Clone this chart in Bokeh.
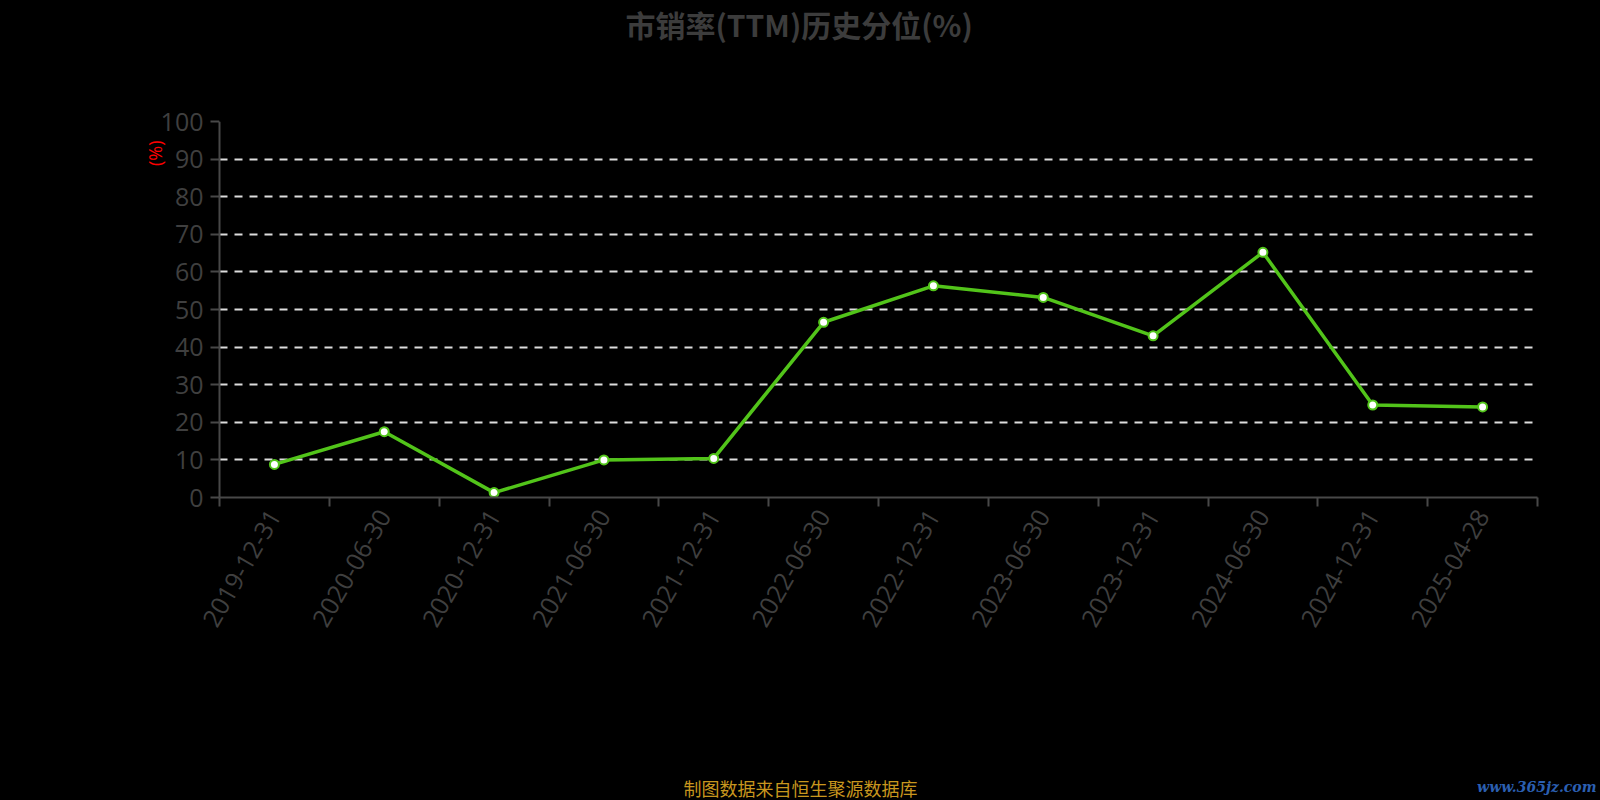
import math
from bokeh.plotting import figure
from bokeh.models import Range1d, FixedTicker, Title, ColorBar, LinearColorMapper
from bokeh.embed import file_html
from bokeh.resources import INLINE

dates = ["2019-12-31", "2020-06-30", "2020-12-31", "2021-06-30", "2021-12-31", "2022-06-30",
         "2022-12-31", "2023-06-30", "2023-12-31", "2024-06-30", "2024-12-31", "2025-04-28"]
values = [8.8, 17.5, 1.3, 10.0, 10.4, 46.6, 56.3, 53.2, 43.0, 65.2, 24.6, 24.1]
y_ticks = [0, 10, 20, 30, 40, 50, 60, 70, 80, 90, 100]

title_text = "市销率(TTM)历史分位(%)"
footer_text = "制图数据来自恒生聚源数据库"
unit_text = "(%)"
mark_text = "www.365jz.com"

W, H = 1600, 800
p = figure(width=W, height=H, output_backend="svg", toolbar_location=None,
           x_range=Range1d(0, len(dates)), y_range=Range1d(0, 100),
           min_border_left=219, min_border_right=63, min_border_top=121, min_border_bottom=303,
           background_fill_color="black", border_fill_color="black", outline_line_color=None)

centers = [i + 0.5 for i in range(len(dates))]
FONT = "Open Sans"
TICK_COLOR = "#3f3f3f"
AXIS_COLOR = "#484848"

# x axis
p.xaxis.ticker = FixedTicker(ticks=centers, minor_ticks=list(range(len(dates) + 1)))
p.xaxis.major_label_overrides = {c: d for c, d in zip(centers, dates)}
p.xaxis.major_tick_out = 0
p.xaxis.major_tick_in = 0
p.xaxis.minor_tick_out = 9
p.xaxis.minor_tick_in = 0
p.xaxis.minor_tick_line_color = AXIS_COLOR
p.xaxis.minor_tick_line_width = 2
p.xaxis.axis_line_color = AXIS_COLOR
p.xaxis.axis_line_width = 2
p.xaxis.major_label_orientation = math.pi / 3
p.xaxis.major_label_standoff = 5
p.xaxis.major_label_text_font = FONT
p.xaxis.major_label_text_font_size = "25px"
p.xaxis.major_label_text_color = TICK_COLOR
p.xgrid.visible = False

# y axis
p.yaxis.ticker = FixedTicker(ticks=y_ticks, minor_ticks=[])
p.yaxis.major_tick_out = 9
p.yaxis.major_tick_in = 0
p.yaxis.major_tick_line_color = AXIS_COLOR
p.yaxis.major_tick_line_width = 2
p.yaxis.minor_tick_line_color = None
p.yaxis.axis_line_color = AXIS_COLOR
p.yaxis.axis_line_width = 2
p.yaxis.major_label_standoff = 7
p.yaxis.major_label_text_font = FONT
p.yaxis.major_label_text_font_size = "25px"
p.yaxis.major_label_text_color = TICK_COLOR
p.ygrid.ticker = FixedTicker(ticks=y_ticks[1:])
p.ygrid.grid_line_color = "#dddddd"
p.ygrid.grid_line_dash = "8 7"
p.ygrid.grid_line_width = 2

GREEN = "#52c41a"
p.line(centers, values, line_color=GREEN, line_width=3.5)
p.scatter(centers, values, size=9, fill_color="white", line_color=GREEN, line_width=2)

_cb_props = ColorBar.properties()


def spacer(size):
    # a blank (black, label-free) colour bar used only to reserve room in a side panel
    opts = dict(orientation="horizontal", height=size, padding=0, margin=0,
                ticker=FixedTicker(ticks=[], minor_ticks=[]), major_tick_out=0,
                major_tick_in=0, minor_tick_out=0, minor_tick_in=0, label_standoff=0,
                bar_line_color=None, border_line_color=None, major_tick_line_color=None,
                minor_tick_line_color=None, background_fill_color=None,
                major_label_text_font_size="0px")
    opts = {k: v for k, v in opts.items() if k in _cb_props}
    return ColorBar(color_mapper=LinearColorMapper(palette=["#000000"], low=0, high=1), **opts)


# title (above, outermost)
p.add_layout(spacer(75), "above")
p.title.text = title_text
p.title.align = "left"
p.title.offset = 406
p.title.vertical_align = "top"
p.title.standoff = -2
p.title.text_font = "Noto Sans CJK SC"
p.title.text_font_style = "bold"
p.title.text_font_size = "30px"
p.title.text_color = "#3c3c3c"

# unit label (left)
p.add_layout(Title(text=unit_text, align="right", offset=19, vertical_align="bottom",
                   text_font=FONT, text_font_size="18px", text_font_style="normal",
                   text_color="#ff0000", standoff=-18), "left")

# footer and watermark (below)
p.add_layout(spacer(136), "below")
p.add_layout(Title(text=footer_text, align="left", offset=464, vertical_align="bottom",
                   standoff=0, text_font="Noto Sans CJK SC", text_font_size="18px",
                   text_font_style="normal", text_color="#c8961e"), "below")
p.add_layout(Title(text=mark_text, align="right", offset=-59, vertical_align="top",
                   standoff=-44, text_font="DejaVu Serif", text_font_size="14px",
                   text_font_style="bold italic", text_color="#2b5fb0"), "below")

html = file_html(p, INLINE)
html = html.replace("</head>", "<style>html,body{background:#000000;}</style></head>")
open("out.html", "w").write(html)
